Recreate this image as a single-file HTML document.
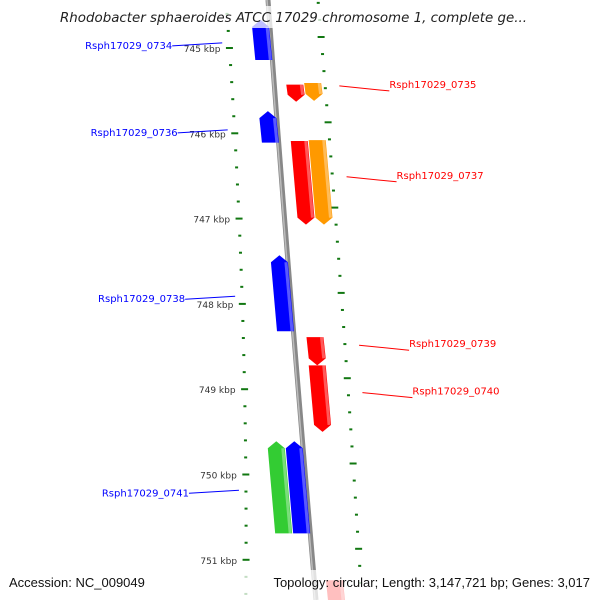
<!DOCTYPE html>
<html><head><meta charset="utf-8"><style>
body{margin:0;background:#fff}
svg{display:block;font-family:"Liberation Sans","DejaVu Sans",sans-serif}
</style></head><body>
<svg id="c" width="600" height="600" viewBox="0 0 600 600">
<g id="ticks"></g>
<path d="M268,0 Q290,300 316,600" stroke="#888" stroke-width="5" fill="none"/>
<path d="M267,0 Q289,300 315,600" stroke="#bbb" stroke-width="1.5" fill="none"/>
<g id="genes"></g>
<g id="labels"></g>
<rect x="50" y="6" width="500" height="22" fill="#fff" fill-opacity="0.75"/>
<text x="60" y="22" textLength="467" lengthAdjust="spacingAndGlyphs" font-family="DejaVu Sans, sans-serif" font-size="13" font-style="italic" fill="#222">Rhodobacter sphaeroides ATCC 17029 chromosome 1, complete ge...</text>
<rect x="0" y="570" width="600" height="30" fill="#fff" fill-opacity="0.75"/>
<text x="9" y="587" font-size="13" fill="#111">Accession: NC_009049</text>
<text x="590" y="587" text-anchor="end" font-size="13" fill="#111">Topology: circular; Length: 3,147,721 bp; Genes: 3,017</text>
</svg>
<script>
const NS="http://www.w3.org/2000/svg";
const kbpTicks=[745,746,747,748,749,750,751];
const geneNames=["Rsph17029_0734","","Rsph17029_0735","Rsph17029_0736","Rsph17029_0737","","Rsph17029_0738","Rsph17029_0739","Rsph17029_0740","Rsph17029_0741","",""];
const geneStart=[744.67,745.43,745.41,745.74,746.09,746.08,747.43,748.39,748.72,749.61,749.61,751.24];
const geneEnd=[745.14,745.63,745.62,746.11,747.07,747.07,748.32,748.72,749.50,750.69,750.69,751.6];
const geneStrand=[-1,1,1,-1,1,1,-1,1,1,-1,-1,1];
const geneLane=[-9,20,38,-9,20,38,-9,20,20,-27,-9,20];
const geneColor=["#0000ff","#ff0000","#ff9900","#0000ff","#ff0000","#ff9900","#0000ff","#ff0000","#ff0000","#33cc33","#0000ff","#ff0000"];
const y=k=>48+(k-745)*85.3;
const bb=yy=>268+48*yy/600;
const leftX=yy=>226+0.075*yy-0.00007*yy*yy;
const rightX=yy=>318+0.085*yy-0.00002*yy*yy;
function el(t,a,p){const e=document.createElementNS(NS,t);for(const k in a)e.setAttribute(k,a[k]);p.appendChild(e);return e;}
const T=document.getElementById('ticks');
for(let i=0;i<=36;i++){
  const k=744.6+i*0.2;const yy=y(k);if(yy<0||yy>600)continue;
  const major=Math.abs(k-Math.round(k))<0.01;
  const w=major?7:3;
  const l=el('line',{x1:leftX(yy)-w/2,y1:yy,x2:leftX(yy)+w/2,y2:yy,stroke:'#117711','stroke-width':2},T);
  
  
  const yr=yy-11;
  const r=el('line',{x1:rightX(yr)-w/2,y1:yr,x2:rightX(yr)+w/2,y2:yr,stroke:'#117711','stroke-width':2},T);
  
  
}
kbpTicks.forEach(k=>{const yy=y(k);
  const t=el('text',{x:leftX(yy)-9,y:yy+4,'font-size':9,'text-anchor':'end',fill:'#333','font-family':'DejaVu Sans, sans-serif'},T);
  t.textContent=k+' kbp';
  
  
});
const G=document.getElementById('genes'),L=document.getElementById('labels');
geneStart.forEach((s,i)=>{
  const y1=y(s),y2=y(geneEnd[i]);
  const c1=bb(y1)+geneLane[i],c2=bb(y2)+geneLane[i],hw=8.5,a=7;
  let pts;
  if(geneStrand[i]>0) pts=[[c1-hw,y1],[c1+hw,y1],[c2+hw,y2-a],[c2,y2],[c2-hw,y2-a]];
  else pts=[[c1,y1],[c1+hw,y1+a],[c2+hw,y2],[c2-hw,y2],[c1-hw,y1+a]];
  const p=el('polygon',{points:pts.map(q=>q.join(',')).join(' '),fill:geneColor[i]},G);
  
  
  const sh=el('line',{x1:c1+hw-2,y1:y1+(geneStrand[i]<0?a:0),x2:c2+hw-2,y2:y2-(geneStrand[i]>0?a:0),stroke:'#fff','stroke-opacity':0.35,'stroke-width':3},G);
  
  
  if(geneNames[i]){
    const ym=(y1+y2)/2,left=geneStrand[i]<0,col=left?'#0000ff':'#ff0000';
    const ly=left?ym+5:ym-4;
    const gx=left?leftX(ly)-7:rightX(ly)+14;
    const lx=left?gx-50:gx+50;
    const ln=el('line',{x1:gx,y1:ly-2,x2:lx,y2:ly+(left?1:3),stroke:col,'stroke-width':1},L);
    
    
    const t=el('text',{x:left?lx:lx,y:ly+(left?4:0),'font-size':10,'text-anchor':left?'end':'start',fill:col,'font-family':'DejaVu Sans, sans-serif'},L);
    t.textContent=geneNames[i];
    
    
  }
});
</script>
</body></html>
